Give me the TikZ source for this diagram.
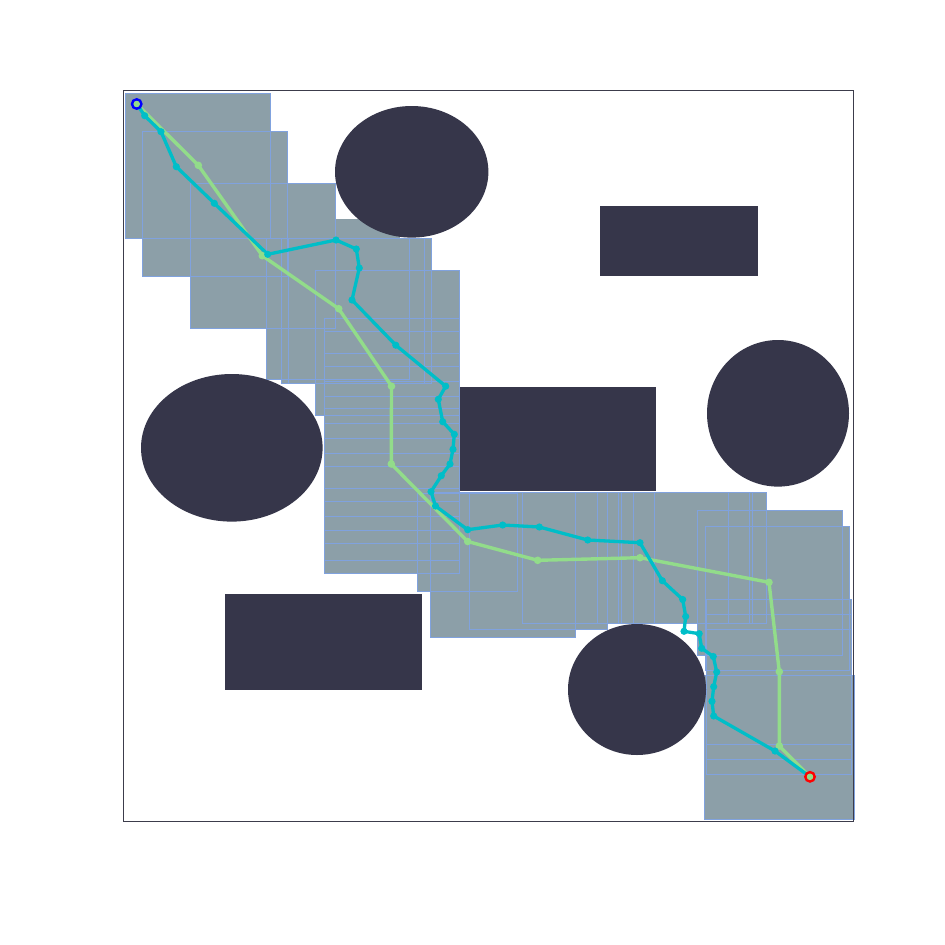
\documentclass[tikz,border=0pt]{standalone}
\definecolor{boxfill}{RGB}{140,159,168}
\definecolor{boxline}{RGB}{128,162,222}
\definecolor{obst}{RGB}{54,54,74}
\definecolor{pathA}{RGB}{146,220,138}
\definecolor{pathB}{RGB}{0,190,200}
\definecolor{framec}{RGB}{60,60,75}
\tikzset{
  boxfillst/.style={fill=boxfill},
  boxlinest/.style={draw=boxline, line width=0.9pt},
  obstst/.style={fill=obst},
  framest/.style={draw=framec, line width=0.9pt},
  greenline/.style={draw=pathA, line width=3.4pt, line join=round, line cap=round},
  cyanline/.style={draw=pathB, line width=3.3pt, line join=round, line cap=round},
  greendot/.style={fill=pathA},
  cyandot/.style={fill=pathB},
}
\def\boxes{125.5/93/270.5/238, 142/131/287/276, 190/183/335.5/328, 266/238/409/379, 281/238/424/383, 288/238/431/383, 315/270/459/415, 324/318.3/459/453.3, 324/331.7/459/466.7, 324/353.3/459/488.3, 324/366.7/459/501.7, 324/381.7/459/516.7, 324/396.7/459/530, 324/408.3/459/543.3, 324/423.3/459/560, 324/438.3/459/573.3, 417/493/517/591, 430/492/575/637, 469/492/607/629, 522/492/654/623, 597/492/728/623, 618/492/749/623, 621/492/752/623, 633/492/766/623, 697/510/842/655, 705/526/849/670, 706.7/599/851.7/744, 706.7/614/851.7/759, 706.7/629/851.7/774, 704/675/854/819}
\def\gpts{136.7/104,198.3/165.3,262.3/255.7,338.7/308.7,391.5/386.2,391.3/464,467.7/541.5,537.7/560.3,640/557.7,769/582.3,779.3/671.7,779.3/746,810/776.8}
\def\cpts{136.7/104,144.7/115.7,161/131.7,176.3/166.7,214.3/203.3,267.7/254.3,336/240,356.3/249,359.3/268,352/300,395.8/345.2,445.7/386.2,438.3/399.3,442.7/421.7,454.3/434.3,453/449.3,450/464,441.3/475.7,431/491.7,435.5/506,467.7/529.7,502.7/525,539.3/527,587.7/540,640/542.7,662.3/580.7,682.7/599.5,685.7/616.5,684/631.3,699.2/633.7,701.7/648.3,713.3/656.5,716.7/672,713.7/686.7,712/701.3,713.7/716,775/751,810/776.8}
\begin{document}
\begin{tikzpicture}[x=1pt,y=-1pt]
\useasboundingbox (0,0) rectangle (945,945);
% corridor boxes
\fill[boxfillst] (300,219) rectangle (400,240);
\foreach \a/\b/\c/\d in \boxes {\fill[boxfillst] (\a,\b) rectangle (\c,\d);}
\foreach \a/\b/\c/\d in \boxes {\draw[boxlinest] (\a,\b) rectangle (\c,\d);}
% obstacles
\fill[obstst] (411.7,171.8) ellipse (76.7pt and 65.8pt);
\fill[obstst] (600,206) rectangle (758,276);
\fill[obstst] (778,413.3) ellipse (71pt and 73.3pt);
\fill[obstst] (231.8,447.8) ellipse (90.8pt and 73.8pt);
\fill[obstst] (460,387) rectangle (656,491);
\fill[obstst] (225,594) rectangle (422,690);
\fill[obstst] (637,689.5) ellipse (69pt and 65.5pt);
% frame
\draw[framest] (123.3,90) rectangle (853.5,821.5);
% path points
\foreach \x/\y [count=\i] in \gpts {\coordinate (g\i) at (\x,\y);}
\foreach \x/\y [count=\i] in \cpts {\coordinate (c\i) at (\x,\y);}
\draw[greenline] (g1) \foreach \i in {2,...,13} {-- (g\i)};
\draw[cyanline] (c1) \foreach \i in {2,...,38} {-- (c\i)};
\foreach \i in {1,...,13} {\fill[greendot] (g\i) circle (3.8pt);}
\foreach \i in {2,...,37} {\fill[cyandot] (c\i) circle (3.6pt);}
% start and goal
\draw[draw=blue, line width=2.6pt] (g1) circle (4.6pt);
\fill[greendot] (g1) circle (3.2pt);
\draw[draw=red, line width=2.6pt] (g13) circle (4.6pt);
\fill[greendot] (g13) circle (3.2pt);
\end{tikzpicture}
\end{document}
